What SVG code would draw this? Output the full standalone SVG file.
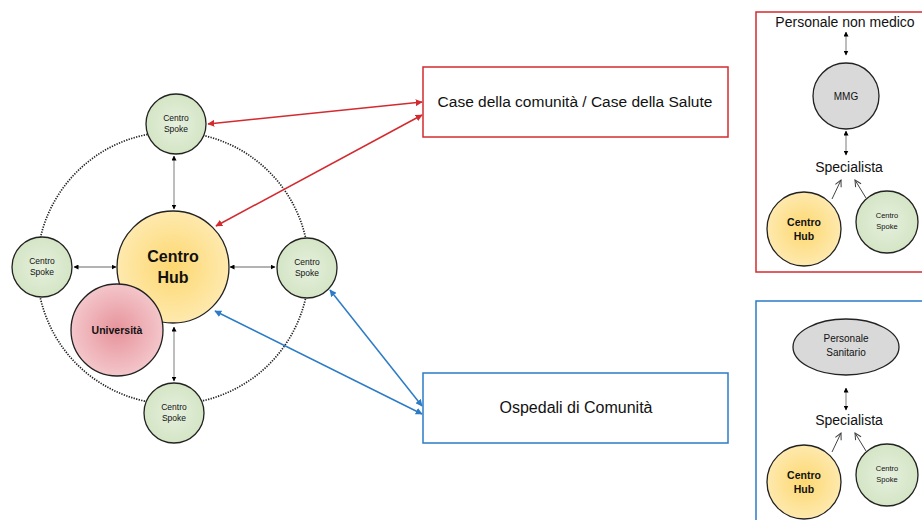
<svg xmlns="http://www.w3.org/2000/svg" width="922" height="520" viewBox="0 0 922 520">
<defs>
<radialGradient id="gSpoke"><stop offset="0" stop-color="#e6f0de"/><stop offset="1" stop-color="#d4e5c5"/></radialGradient>
<radialGradient id="gHub"><stop offset="0" stop-color="#fdd870"/><stop offset="1" stop-color="#fee9ae"/></radialGradient>
<radialGradient id="gUni"><stop offset="0" stop-color="#e7939b"/><stop offset="1" stop-color="#f3c6ca"/></radialGradient>
<marker id="mb" viewBox="0 0 10 10" refX="9" refY="5" markerWidth="5" markerHeight="5" orient="auto-start-reverse" markerUnits="userSpaceOnUse"><path d="M0,0 L10,5 L0,10 z" fill="#000"/></marker>
<marker id="mr" viewBox="0 0 10 10" refX="9" refY="5" markerWidth="7" markerHeight="7" orient="auto-start-reverse" markerUnits="userSpaceOnUse"><path d="M0,0 L10,5 L0,10 z" fill="#d42a2f"/></marker>
<marker id="mu" viewBox="0 0 10 10" refX="9" refY="5" markerWidth="7" markerHeight="7" orient="auto-start-reverse" markerUnits="userSpaceOnUse"><path d="M0,0 L10,5 L0,10 z" fill="#2b7bc6"/></marker>
<marker id="mo" viewBox="0 0 10 10" refX="9" refY="5" markerWidth="8" markerHeight="8" orient="auto" markerUnits="userSpaceOnUse"><path d="M1,1 L9,5 L1,9" fill="none" stroke="#444" stroke-width="1.3"/></marker>
</defs>
<style>
text{font-family:"Liberation Sans","Noto Sans",Arial,sans-serif;text-anchor:middle;fill:#111}
.spoke{fill:url(#gSpoke);stroke:#222;stroke-width:1.3}
.hub{fill:url(#gHub);stroke:#222;stroke-width:1.3}
.uni{fill:url(#gUni);stroke:#222;stroke-width:1.3}
.gray{fill:#d9d9d9;stroke:#222;stroke-width:1.3}
.sm{font-size:8.5px}
.xs{font-size:7.5px}
.b{font-weight:bold}
.lbl{font-size:14px}
.ba{stroke:#9a9a9a;stroke-width:1.3;fill:none;marker-start:url(#mb);marker-end:url(#mb)}
.ra{stroke:#d42a2f;stroke-width:1.5;fill:none;marker-start:url(#mr);marker-end:url(#mr)}
.ua{stroke:#2b7bc6;stroke-width:1.5;fill:none;marker-start:url(#mu);marker-end:url(#mu)}
.oa{stroke:#444;stroke-width:1;fill:none;marker-end:url(#mo)}
</style>
<rect width="922" height="520" fill="#fff"/>
<circle id="ring" cx="173" cy="268" r="136" fill="none" stroke="#222" stroke-width="1.7" stroke-dasharray="1.3,1.3"/>
<g id="connectors">
<line class="ba" x1="174" y1="156" x2="174" y2="209"/>
<line class="ba" x1="74" y1="267" x2="116" y2="267"/>
<line class="ba" x1="230" y1="267" x2="275" y2="267"/>
<line class="ba" x1="174" y1="327" x2="174" y2="381"/>
<line class="ra" x1="422" y1="102" x2="208" y2="124"/>
<line class="ra" x1="422" y1="115" x2="216" y2="226"/>
<line class="ua" x1="330" y1="290" x2="422" y2="406"/>
<line class="ua" x1="215" y1="311" x2="422" y2="414"/>
<line class="ba" x1="846" y1="32" x2="846" y2="55"/>
<line class="ba" x1="846" y1="131" x2="846" y2="155"/>
<line class="oa" x1="832" y1="199" x2="841" y2="180"/>
<line class="oa" x1="866" y1="198" x2="855" y2="180"/>
<line class="ba" x1="846" y1="388" x2="846" y2="410"/>
<line class="oa" x1="832" y1="452" x2="841" y2="433"/>
<line class="oa" x1="866" y1="451" x2="855" y2="433"/>
</g>
<g id="spokeTop"><circle class="spoke" cx="176" cy="124" r="30"/><text class="sm" x="176" y="121">Centro</text><text class="sm" x="176" y="132">Spoke</text></g>
<g id="spokeLeft"><circle class="spoke" cx="42" cy="267" r="30"/><text class="sm" x="42" y="264">Centro</text><text class="sm" x="42" y="275">Spoke</text></g>
<g id="spokeRight"><circle class="spoke" cx="307" cy="268" r="30"/><text class="sm" x="307" y="265">Centro</text><text class="sm" x="307" y="276">Spoke</text></g>
<g id="spokeBottom"><circle class="spoke" cx="174" cy="413" r="30"/><text class="sm" x="174" y="410">Centro</text><text class="sm" x="174" y="421">Spoke</text></g>
<g id="hub"><circle class="hub" cx="173" cy="267" r="56"/><text class="b" font-size="16" x="173" y="262">Centro</text><text class="b" font-size="16" x="173" y="283">Hub</text></g>
<g id="uni"><circle class="uni" cx="117" cy="330" r="46"/><text class="b" font-size="10.5" x="117" y="334">Università</text></g>
<g id="caseBox"><rect x="423" y="67" width="305" height="70" fill="#fff" stroke="#d42a2f" stroke-width="1.5"/><text font-size="15.5" x="575" y="107">Case della comunità / Case della Salute</text></g>
<g id="ospBox"><rect x="423" y="373" width="305" height="70" fill="#fff" stroke="#2b7bc6" stroke-width="1.5"/><text font-size="16" x="576" y="413">Ospedali di Comunità</text></g>
<g id="panelRed">
<rect x="756" y="12" width="180" height="260" fill="none" stroke="#d42a2f" stroke-width="1.5"/>
<text class="lbl" x="845" y="27">Personale non medico</text>
<g id="mmg"><circle class="gray" cx="846" cy="96" r="33"/><text font-size="10" x="846" y="100">MMG</text></g>
<text class="lbl" x="849" y="172">Specialista</text>
<g id="hubR"><circle class="hub" cx="804" cy="229" r="37"/><text class="b" font-size="10.5" x="804" y="226">Centro</text><text class="b" font-size="10.5" x="804" y="240">Hub</text></g>
<g id="spokeR"><circle class="spoke" cx="887" cy="222" r="31"/><text class="xs" x="887" y="218">Centro</text><text class="xs" x="887" y="229">Spoke</text></g>
</g>
<g id="panelBlue">
<rect x="756" y="301" width="180" height="240" fill="none" stroke="#2b7bc6" stroke-width="1.5"/>
<g id="persSan"><ellipse class="gray" cx="846" cy="347" rx="53" ry="28"/><text font-size="10" x="846" y="342">Personale</text><text font-size="10" x="846" y="356">Sanitario</text></g>
<text class="lbl" x="849" y="425">Specialista</text>
<g id="hubB"><circle class="hub" cx="804" cy="482" r="37"/><text class="b" font-size="10.5" x="804" y="479">Centro</text><text class="b" font-size="10.5" x="804" y="493">Hub</text></g>
<g id="spokeB"><circle class="spoke" cx="887" cy="475" r="31"/><text class="xs" x="887" y="471">Centro</text><text class="xs" x="887" y="482">Spoke</text></g>
</g>
</svg>
